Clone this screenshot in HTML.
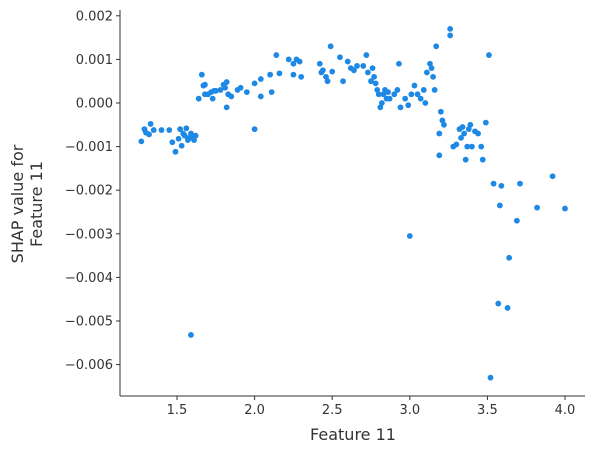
<!DOCTYPE html>
<html><head><meta charset="utf-8"><style>
body{margin:0;background:#fff;}
svg{display:block;font-family:"DejaVu Sans","Liberation Sans",sans-serif;}
</style></head><body>
<svg id="chart" width="595" height="454" viewBox="0 0 595 454"></svg>
<script>
const featureValues=[1.27,1.29,1.30,1.32,1.33,1.35,1.40,1.45,1.47,1.49,1.51,1.52,1.53,1.54,1.55,1.56,1.57,1.58,1.59,1.60,1.61,1.62,1.59,
1.64,1.66,1.67,1.68,1.68,1.70,1.72,1.73,1.74,1.75,1.78,1.80,1.81,1.82,1.82,1.83,1.85,1.89,1.91,1.95,2.00,2.00,2.04,2.04,2.10,2.11,2.14,2.16,
2.22,2.25,2.25,2.27,2.29,2.30,2.42,2.43,2.44,2.46,2.47,2.49,2.50,2.55,2.57,2.60,2.62,2.64,2.66,2.70,2.72,2.73,2.75,2.76,2.77,2.78,2.79,2.80,2.81,2.82,2.83,2.84,2.85,2.86,2.87,2.90,2.92,2.93,2.94,2.97,2.99,3.00,3.01,3.03,3.05,3.07,3.09,3.10,3.11,3.13,3.14,3.15,3.16,3.17,3.19,3.19,3.20,3.21,3.22,3.26,3.26,3.28,3.30,3.32,3.33,3.34,3.35,3.36,3.37,3.38,3.39,3.40,3.42,3.44,3.46,3.47,3.49,3.51,3.52,3.54,3.57,3.58,3.59,3.63,3.64,3.69,3.71,3.82,3.92,4.00];
const shapValues=[-0.00088,-0.0006,-0.00068,-0.00072,-0.00048,-0.00062,-0.00062,-0.00062,-0.0009,-0.00112,-0.00082,-0.0006,-0.00098,-0.0007,-0.00075,-0.00058,-0.00085,-0.0008,-0.0007,-0.0008,-0.00085,-0.00075,-0.00532,
0.0001,0.00065,0.0004,0.00042,0.0002,0.0002,0.00025,0.0001,0.00028,0.00028,0.0003,0.00042,0.00035,0.00048,-0.0001,0.0002,0.00015,0.0003,0.00035,0.00025,0.00045,-0.0006,0.00055,0.00015,0.00065,0.00025,0.0011,0.00068,
0.001,0.0009,0.00065,0.001,0.00095,0.0006,0.0009,0.0007,0.00075,0.0006,0.0005,0.0013,0.00072,0.00105,0.0005,0.00095,0.0008,0.00075,0.00085,0.00085,0.0011,0.0007,0.0005,0.0008,0.0006,0.00045,0.0003,0.0002,-0.0001,0.0,0.0002,0.0003,0.0001,0.00025,0.0001,0.0002,0.0003,0.0009,-0.0001,0.0001,-0.00005,-0.00305,0.0002,0.0004,0.0002,0.0001,0.0003,0.0,0.0007,0.0009,0.0008,0.0006,0.0003,0.0013,-0.0012,-0.0007,-0.0002,-0.0004,-0.0005,0.0017,0.00155,-0.001,-0.00095,-0.0006,-0.0008,-0.00055,-0.0007,-0.0013,-0.001,-0.0006,-0.0005,-0.001,-0.00065,-0.0007,-0.001,-0.0013,-0.00045,0.0011,-0.0063,-0.00185,-0.0046,-0.00235,-0.0019,-0.0047,-0.00355,-0.0027,-0.00185,-0.0024,-0.00168,-0.00242];
const xTicks=[1.5,2.0,2.5,3.0,3.5,4.0];
const xTickLabels=["1.5","2.0","2.5","3.0","3.5","4.0"];
const yTicks=[0.002,0.001,0,-0.001,-0.002,-0.003,-0.004,-0.005,-0.006];
const yTickLabels=["0.002","0.001","0.000","−0.001","−0.002","−0.003","−0.004","−0.005","−0.006"];

const NS="http://www.w3.org/2000/svg";
const svg=document.getElementById('chart');
const L=120,R=585,T=10,B=396;
const xs=v=>177+(v-1.5)*155.2;
const ys=v=>103-v*43600;
function el(t,a,p){const e=document.createElementNS(NS,t);for(const k in a)e.setAttribute(k,a[k]);(p||svg).appendChild(e);return e;}
const pts=el('g',{});


featureValues.forEach((v,i)=>{
  const c=el('circle',{cx:xs(v),cy:ys(shapValues[i]),r:2.9,fill:'#1E88E5'},pts);
  
  
});
const ax=el('line',{x1:L,y1:B,x2:R,y2:B,stroke:'#333','stroke-width':1});


const ay=el('line',{x1:L,y1:T,x2:L,y2:B,stroke:'#333','stroke-width':1});


xTicks.forEach((v,i)=>{
  const x=xs(v);
  const tk=el('line',{x1:x,y1:B,x2:x,y2:B+4,stroke:'#333'});
  
  
  const t=el('text',{x:x,y:B+18,'text-anchor':'middle','font-size':13,fill:'#333'});
  t.textContent=xTickLabels[i];
  
  
});
yTicks.forEach((v,i)=>{
  const y=ys(v);
  const tk=el('line',{x1:L-4,y1:y,x2:L,y2:y,stroke:'#333'});
  
  
  const t=el('text',{x:L-7,y:y+4.5,'text-anchor':'end','font-size':13,fill:'#333'});
  t.textContent=yTickLabels[i];
  
  
});
const xt=el('text',{x:353,y:440,'text-anchor':'middle','font-size':16,fill:'#333'});
xt.textContent='Feature 11';


const yt=el('text',{transform:'translate(23,204) rotate(-90)','text-anchor':'middle','font-size':16,fill:'#333'});


const s1=el('tspan',{x:0,y:0},yt);s1.textContent='SHAP value for';
const s2=el('tspan',{x:0,y:19},yt);s2.textContent='Feature 11';
</script>
</body></html>
